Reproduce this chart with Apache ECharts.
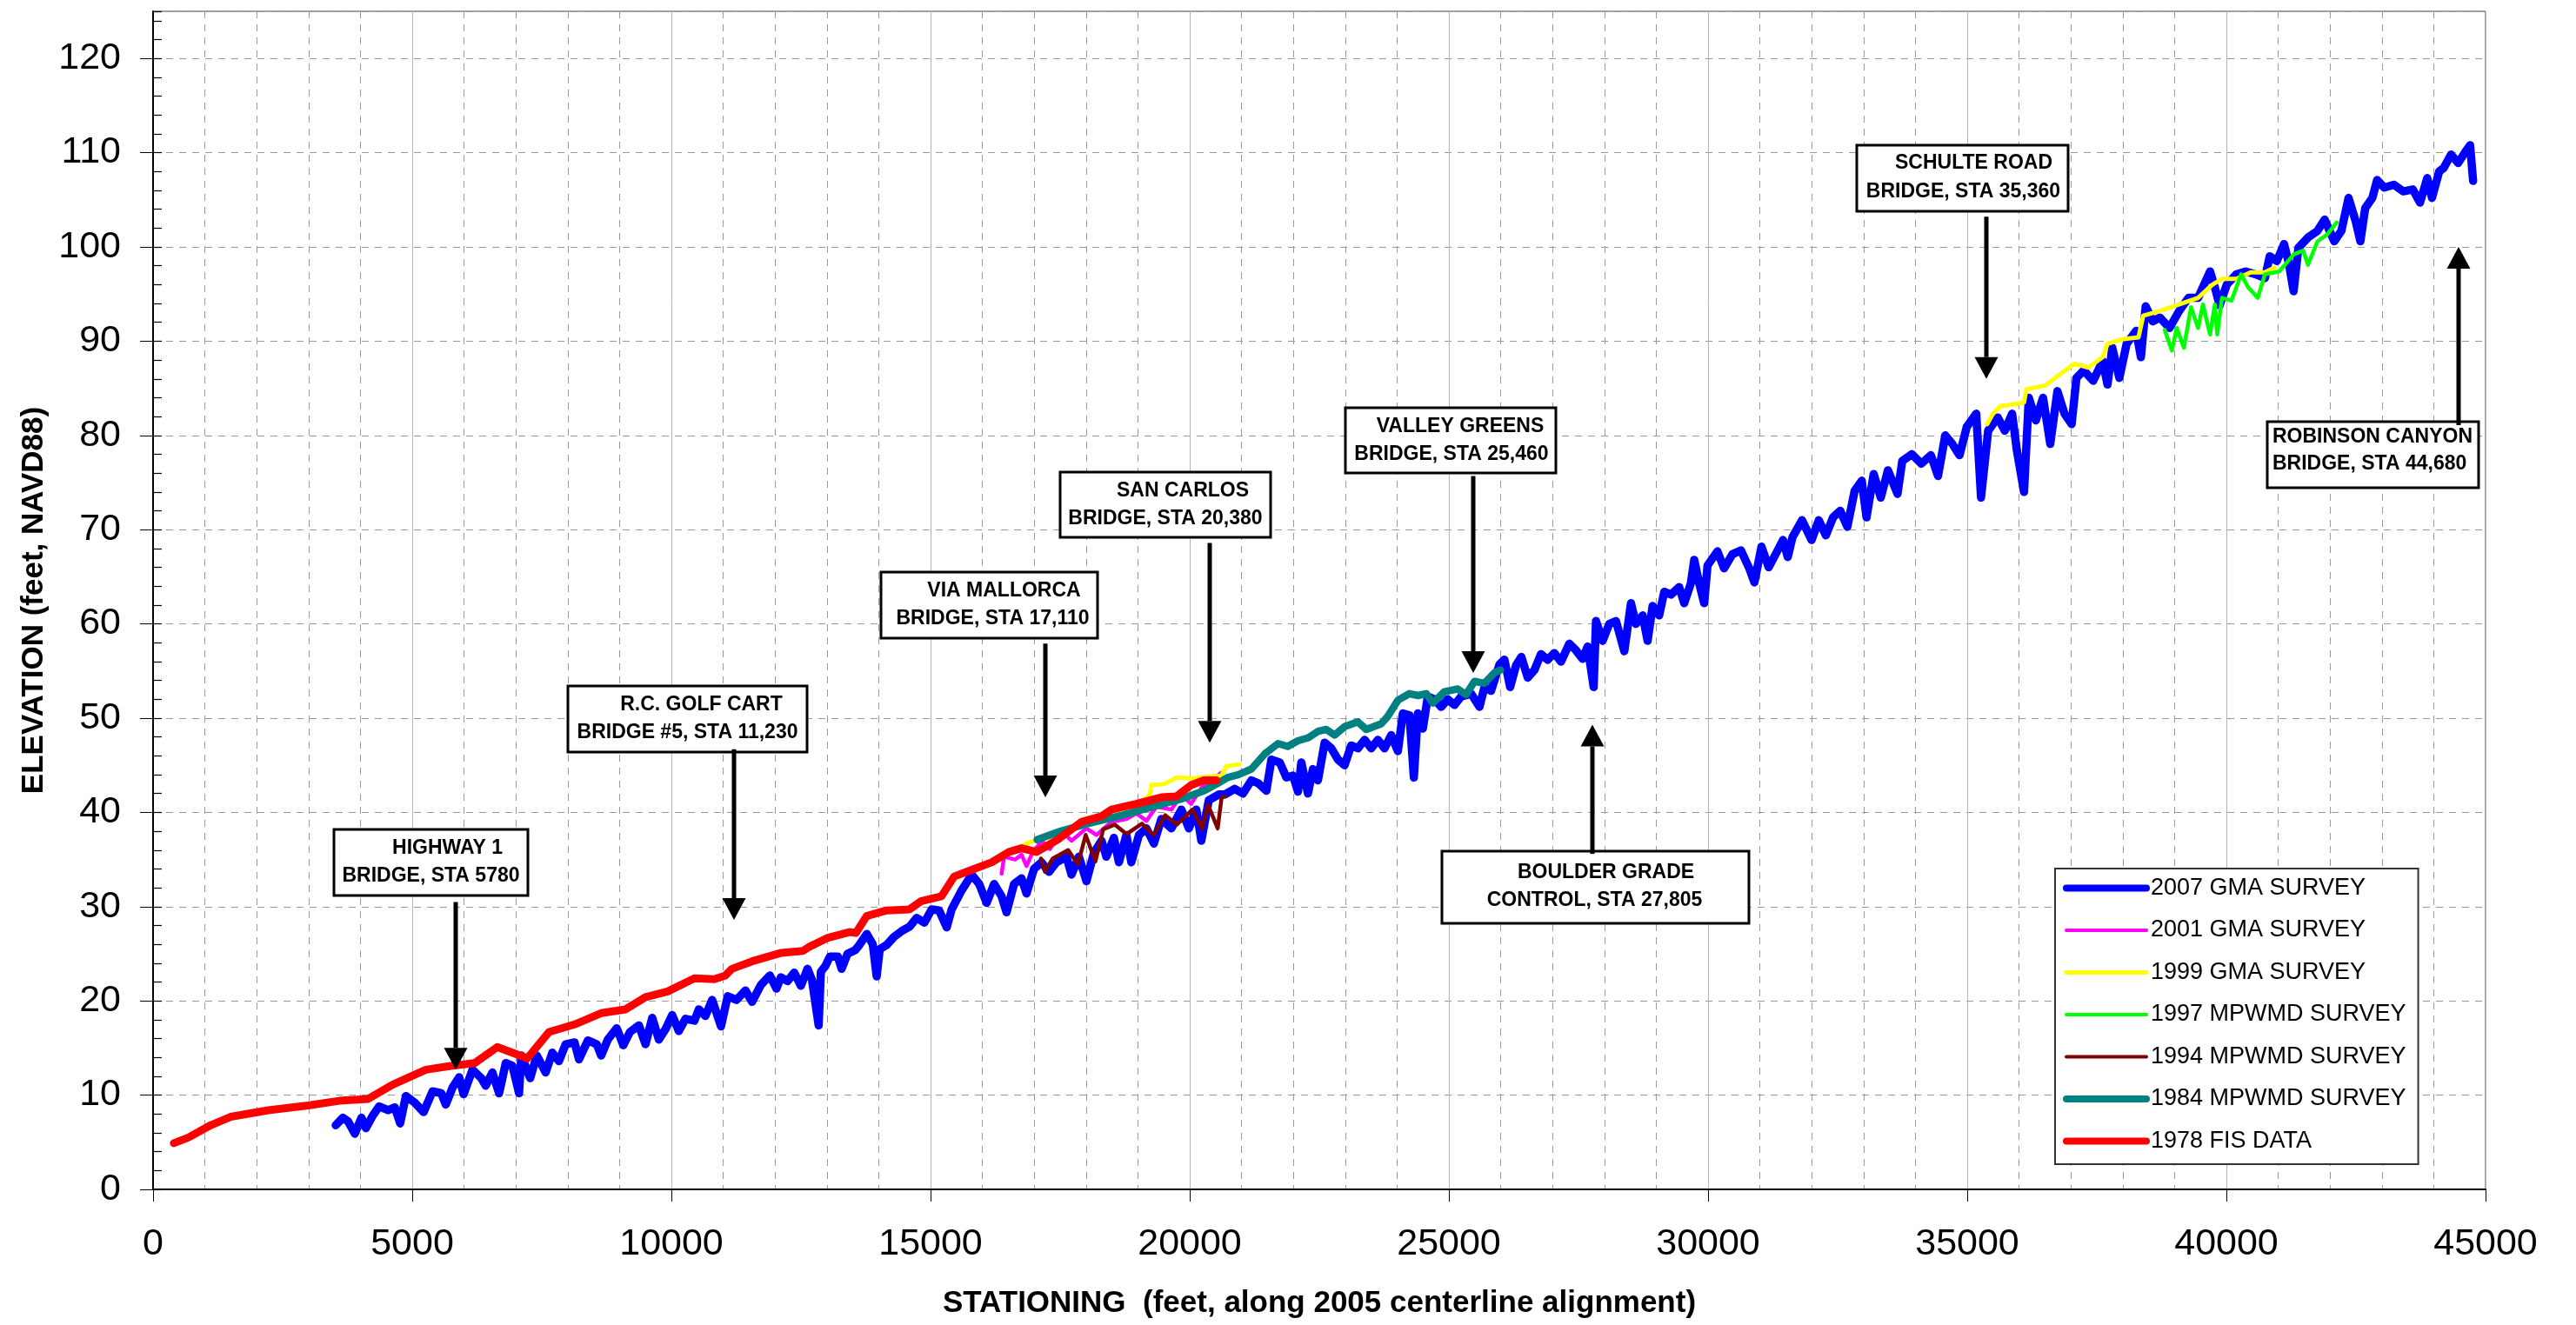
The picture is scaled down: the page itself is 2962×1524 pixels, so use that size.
<!DOCTYPE html>
<html>
<head>
<meta charset="utf-8">
<script src="https://cdn.jsdelivr.net/npm/echarts@6/dist/echarts.min.js"></script>
<style>
html,body{margin:0;padding:0;background:#fff;}
#chart{width:2962px;height:1524px;}
</style>
</head>
<body>
<div id="chart"></div>
<script>
// ---------------- DATA (station ft, elevation ft NAVD88) ----------------
const survey2007 = [[3524,6.8],[3662,7.6],[3764,7.2],[3893,5.9],[4021,7.6],[4107,6.5],[4235,7.8],[4363,8.8],[4535,8.4],[4664,8.7],[4767,7.0],[4877,9.9],[5048,9.2],[5220,8.2],[5391,10.4],[5561,10.2],[5647,9.0],[5777,10.8],[5906,11.9],[5991,10.1],[6163,12.7],[6333,11.8],[6416,11.0],[6547,12.4],[6676,10.2],[6804,13.4],[6933,13.1],[7061,10.2],[7104,14.2],[7275,11.8],[7403,14.2],[7574,12.4],[7703,14.5],[7831,13.6],[7960,15.4],[8131,15.6],[8217,13.8],[8388,15.8],[8559,15.4],[8645,14.2],[8774,15.9],[8945,17.1],[9073,15.3],[9202,16.7],[9373,17.4],[9501,15.4],[9630,18.2],[9758,15.9],[9887,17.0],[10015,18.5],[10143,16.8],[10273,18.1],[10444,17.9],[10529,19.1],[10657,18.4],[10786,20.1],[10957,17.3],[11086,20.5],[11257,20.1],[11428,21.1],[11557,19.9],[11728,21.7],[11899,22.7],[12027,21.3],[12112,22.5],[12240,22.1],[12370,23.0],[12498,21.6],[12626,23.4],[12713,22.2],[12841,17.4],[12884,23.1],[12970,23.7],[13059,24.7],[13210,24.7],[13284,23.4],[13398,25.0],[13548,25.4],[13622,25.9],[13771,27.1],[13885,26.0],[13960,22.6],[14020,25.5],[14147,25.9],[14296,26.8],[14443,27.4],[14600,27.9],[14732,28.8],[14880,28.3],[15021,29.7],[15165,29.6],[15311,27.8],[15407,29.7],[15597,31.7],[15793,33.4],[15938,32.4],[16082,30.4],[16226,32.4],[16370,31.1],[16466,29.4],[16611,32.4],[16755,33.0],[16852,31.4],[16996,34.0],[17141,34.7],[17285,33.7],[17429,34.7],[17622,35.3],[17719,33.4],[17862,35.3],[18008,32.7],[18152,35.7],[18298,37.0],[18392,35.3],[18537,37.3],[18634,34.7],[18778,37.6],[18874,34.7],[19020,37.6],[19165,38.3],[19309,36.7],[19453,39.3],[19646,38.3],[19839,40.3],[19984,38.3],[20128,40.3],[20224,37.0],[20368,41.3],[20561,41.9],[20676,41.9],[20866,42.5],[21028,42.0],[21190,43.4],[21319,43.1],[21479,42.3],[21575,45.6],[21736,45.3],[21865,43.7],[21993,43.9],[22089,42.2],[22153,45.3],[22281,42.0],[22377,44.6],[22474,43.4],[22603,47.4],[22731,46.8],[22860,45.6],[22987,45.0],[23115,47.1],[23245,46.8],[23374,47.7],[23501,46.8],[23630,47.7],[23759,46.8],[23887,48.2],[24016,46.5],[24112,50.5],[24240,50.3],[24324,43.7],[24401,50.5],[24498,48.9],[24594,52.3],[24723,52.0],[24851,51.2],[24979,52.0],[25108,51.4],[25237,52.3],[25428,52.6],[25590,51.2],[25687,53.3],[25814,52.9],[25976,55.7],[26071,56.2],[26182,53.3],[26296,55.6],[26398,56.5],[26521,54.3],[26650,55.1],[26777,56.8],[26906,56.2],[27034,56.9],[27163,56.0],[27323,57.9],[27452,57.2],[27580,56.3],[27677,57.6],[27793,53.3],[27838,60.3],[27966,58.2],[28095,60.0],[28223,60.3],[28384,57.1],[28513,62.2],[28609,60.0],[28738,60.9],[28834,58.2],[28930,61.9],[29057,60.9],[29155,63.4],[29284,63.1],[29443,63.9],[29540,62.2],[29668,64.3],[29733,66.8],[29829,64.3],[29925,62.2],[29990,66.2],[30181,67.7],[30310,65.9],[30471,67.4],[30634,67.8],[30795,65.9],[30894,64.4],[31031,68.2],[31169,66.0],[31305,67.4],[31446,68.9],[31538,67.1],[31629,69.2],[31813,71.0],[31998,68.9],[32136,71.0],[32273,69.4],[32412,71.3],[32550,72.0],[32687,70.3],[32827,74.1],[32965,75.2],[33057,71.3],[33195,75.9],[33332,73.4],[33470,76.3],[33655,73.8],[33747,77.3],[33932,78.0],[34115,77.0],[34299,77.9],[34437,75.7],[34576,80.0],[34712,79.1],[34852,77.9],[34991,80.9],[35174,82.3],[35266,73.4],[35404,80.5],[35589,81.9],[35726,80.5],[35866,82.3],[35958,78.4],[36096,74.0],[36188,84.0],[36324,81.6],[36463,84.0],[36602,79.1],[36740,84.7],[36877,82.3],[37015,81.2],[37107,86.1],[37247,86.9],[37431,85.8],[37614,87.9],[37706,85.4],[37799,89.3],[37935,86.1],[38074,89.7],[38259,91.1],[38351,88.3],[38443,93.7],[38581,92.1],[38718,92.5],[38903,91.4],[39087,93.2],[39270,94.6],[39455,94.6],[39685,97.4],[39778,95.7],[39870,93.8],[40007,96.0],[40192,97.1],[40374,97.4],[40559,97.1],[40744,96.7],[40836,99.0],[40974,98.5],[41112,100.3],[41204,98.3],[41297,95.3],[41389,99.9],[41574,101.0],[41757,101.7],[41896,102.9],[42081,100.6],[42219,101.7],[42357,105.2],[42495,102.7],[42585,100.6],[42678,104.1],[42816,105.2],[42908,107.1],[43045,106.3],[43230,106.6],[43413,105.9],[43598,106.1],[43735,104.7],[43875,107.3],[43967,105.2],[44105,108.0],[44195,108.4],[44334,109.8],[44472,108.9],[44612,110.1],[44702,110.8],[44760,107.0]];

const survey2001 = [[16370,33.5],[16420,35.3],[16630,35.0],[16755,35.5],[16852,34.3],[16948,35.5],[17141,37.0],[17300,36.1],[17527,38.0],[17719,37.0],[18008,38.3],[18200,37.6],[18489,39.0],[18778,39.3],[18970,39.9],[19165,39.1],[19356,40.6],[19646,40.3],[19839,41.9],[20027,40.9],[20224,42.6],[20465,43.6],[20609,44.2]];

const survey1999 = [[16700,36.2],[16850,36.7],[17000,37.0],[17200,37.3],[17600,38.1],[18000,38.9],[18500,40.0],[18900,40.8],[19150,41.5],[19230,41.9],[19260,42.9],[19500,43.0],[19750,43.7],[20050,43.6],[20350,43.8],[20610,43.9],[20705,44.9],[20950,45.1],
  [28000,null],
  [35386,81.2],[35497,82.3],[35636,83.1],[35911,83.3],[36096,83.5],[36140,84.9],[36509,85.3],[36694,86.1],[37063,87.6],[37337,87.2],[37614,88.3],[37706,89.7],[37982,90.2],[38304,90.4],[38396,92.7],[38718,93.2],[39087,93.9],[39455,94.6],[39731,96.0],[39915,96.6],[40192,96.6],[40468,97.3],[40744,97.3],[40928,97.8]];

const survey1997 = [[38810,91.2],[38948,89.0],[39042,91.4],[39180,89.3],[39318,93.6],[39455,91.4],[39547,93.9],[39685,90.7],[39778,93.9],[39823,90.7],[39915,94.6],[40100,94.3],[40284,97.1],[40422,95.7],[40606,94.6],[40744,97.1],[41021,97.4],[41297,99.2],[41482,99.6],[41574,98.1],[41758,100.6],[41943,101.3],[42127,102.6]];

const survey1994 = [[17130,35.1],[17206,33.7],[17355,35.1],[17655,36.0],[17842,34.5],[17993,37.6],[18181,34.8],[18330,38.2],[18555,38.7],[18780,37.7],[19079,38.8],[19303,37.6],[19528,39.7],[19753,38.7],[20052,40.3],[20240,38.3],[20353,40.8],[20540,38.3],[20615,41.6],[20680,41.7]];

const survey1984 = [[17056,37.1],[17505,38.0],[18030,38.8],[18629,39.6],[19228,40.5],[19826,41.4],[20277,42.3],[20547,43.1],[20727,43.7],[20933,44.0],[21190,44.6],[21447,46.2],[21704,47.3],[21891,47.0],[22088,47.6],[22281,47.9],[22474,48.6],[22635,48.8],[22796,48.2],[22988,49.1],[23245,49.6],[23406,48.8],[23694,49.4],[23823,50.2],[24016,51.9],[24240,52.6],[24401,52.4],[24562,52.6],[24690,51.6],[24914,52.8],[25171,53.1],[25331,52.5],[25493,53.9],[25684,53.7],[25877,54.8],[25993,55.1]];

const fis1978 = [[400,4.9],[681,5.5],[1109,6.8],[1495,7.7],[2224,8.4],[2992,8.9],[3593,9.4],[4150,9.6],[4620,11.1],[5263,12.7],[5740,13.1],[6205,13.4],[6640,15.1],[7220,13.9],[7640,16.7],[8131,17.5],[8645,18.7],[9116,19.1],[9501,20.4],[9928,21.0],[10444,22.4],[10828,22.3],[11043,22.7],[11166,23.4],[11557,24.2],[12122,25.1],[12535,25.3],[12648,25.7],[13022,26.7],[13435,27.3],[13560,27.2],[13767,29.0],[14150,29.6],[14590,29.7],[14825,30.6],[15211,31.1],[15455,33.2],[15793,33.9],[16177,34.7],[16514,35.8],[16755,36.2],[17045,35.8],[17476,37.2],[17912,39.0],[18298,39.6],[18489,40.3],[18969,40.9],[19453,41.6],[19742,41.7],[20027,42.9],[20272,43.4],[20513,43.4]];

const seriesNames = ['2007 GMA SURVEY','2001 GMA SURVEY','1999 GMA SURVEY','1997 MPWMD SURVEY','1994 MPWMD SURVEY','1984 MPWMD SURVEY','1978 FIS DATA'];

// Annotation texts and arrow positions (station, tail elevation, tip elevation)
const annotationTitles = ['HIGHWAY 1','R.C. GOLF CART','VIA MALLORCA','SAN CARLOS','VALLEY GREENS','BOULDER GRADE','SCHULTE ROAD','ROBINSON CANYON'];
const annotationSubtitles = ['BRIDGE, STA 5780','BRIDGE #5, STA 11,230','BRIDGE, STA 17,110','BRIDGE, STA 20,380','BRIDGE, STA 25,460','CONTROL, STA 27,805','BRIDGE, STA 35,360','BRIDGE, STA 44,680'];
const arrowStations = [5840, 11215, 17219, 20388, 25474, 27776, 35367, 44475];
const arrowTails = [30.5, 46.7, 57.9, 68.6, 75.7, 35.6, 103.2, 81.1];
const arrowTips = [12.7, 28.6, 41.6, 47.4, 54.8, 49.3, 86.0, 100.0];

// ---------------- LAYOUT / STYLE ----------------
const FONT = '"Liberation Sans", Arial, Helvetica, sans-serif';
const colors = ['#0000FF','#FF00FF','#FFFF00','#00FF00','#800000','#008080','#FF0000'];
const widths = [9.5, 4.5, 5, 4.5, 4.5, 8.5, 9];
const legendWidths = [8, 4, 5, 4, 4, 8, 8];
const seriesData = [survey2007, survey2001, survey1999, survey1997, survey1994, survey1984, fis1978];
// box anchor (top-left in data coords) + pixel size and text offsets
const boxLayout = [
  {x:3496,  y:38.2,  w:223, h:76, l1:22, l2:54, dx1:19, dx2:0},
  {x:8008,  y:53.4,  w:275, h:76, l1:22, l2:54, dx1:16, dx2:0},
  {x:14036, y:65.5,  w:249, h:76, l1:22, l2:54, dx1:17, dx2:4},
  {x:17494, y:76.1,  w:242, h:75, l1:22, l2:54, dx1:20, dx2:0},
  {x:22998, y:82.9,  w:242, h:75, l1:22, l2:54, dx1:11, dx2:1},
  {x:24861, y:35.9,  w:353, h:83, l1:25, l2:57, dx1:12, dx2:-1},
  {x:32867, y:110.8, w:243, h:76, l1:21, l2:54, dx1:13, dx2:1},
  {x:40788, y:81.5,  w:243, h:76, l1:18, l2:49, left:6}
];

const chart = echarts.init(document.getElementById('chart'), null, {renderer:'canvas'});

const series = seriesNames.map((name, i) => ({
  name: name,
  type: 'line',
  data: seriesData[i],
  xAxisIndex: 0,
  yAxisIndex: 0,
  symbol: 'none',
  showSymbol: false,
  connectNulls: false,
  silent: true,
  animation: false,
  z: 2 + i,
  lineStyle: {color: colors[i], width: widths[i], cap: 'round', join: 'round'},
  itemStyle: {color: colors[i]}
}));

const option = {
  backgroundColor: '#fff',
  animation: false,
  textStyle: {fontFamily: FONT},
  grid: {left: 176, right: 104, top: 13, bottom: 156, show: true, borderColor: '#444', borderWidth: 1},
  legend: {
    left: 2363, top: 999, orient: 'vertical',
    backgroundColor: '#fff', borderColor: '#333', borderWidth: 2,
    padding: [9, 14, 13, 9], itemGap: 21.5, itemWidth: 92, itemHeight: 14,
    selectedMode: false,
    itemStyle: {opacity: 0},
    textStyle: {fontSize: 27, fontFamily: FONT, color: '#000'},
    data: seriesNames.map((n, i) => ({name: n, lineStyle: {width: legendWidths[i], color: colors[i], cap: 'round'}, itemStyle: {opacity: 0}}))
  },
  xAxis: {
    type: 'value', min: 0, max: 45000, interval: 5000,
    name: 'STATIONING  (feet, along 2005 centerline alignment)',
    nameLocation: 'middle', nameGap: 114,
    nameTextStyle: {fontSize: 35, fontWeight: 'bold', color: '#000', fontFamily: FONT},
    axisLine: {show: true, onZero: false, lineStyle: {color: '#000', width: 2}},
    axisTick: {show: true, inside: false, length: 14, lineStyle: {color: '#000', width: 1}},
    axisLabel: {fontSize: 43, color: '#000', margin: 42, fontFamily: FONT, showMinLabel: true, showMaxLabel: true,
      formatter: v => String(v)},
    splitLine: {show: true, lineStyle: {color: '#b4b4b4', width: 1, type: 'solid'}},
    minorTick: {show: false, splitNumber: 5},
    minorSplitLine: {show: true, lineStyle: {color: '#9a9a9a', width: 1, type: [8, 7]}}
  },
  yAxis: [{
    type: 'value', min: 0, max: 125, interval: 10, position: 'left',
    name: 'ELEVATION (feet, NAVD88)',
    nameLocation: 'middle', nameGap: 119, nameRotate: 90,
    nameTextStyle: {fontSize: 35, fontWeight: 'bold', color: '#000', fontFamily: FONT},
    axisLine: {show: true, onZero: false, lineStyle: {color: '#000', width: 2}},
    axisTick: {show: true, inside: false, length: 15, lineStyle: {color: '#000', width: 1}},
    axisLabel: {fontSize: 43, color: '#000', margin: 37, fontFamily: FONT, showMaxLabel: false},
    splitLine: {show: true, lineStyle: {color: '#9a9a9a', width: 1, type: [8, 7]}}
  }, {
    type: 'value', min: 0, max: 125, interval: 2, position: 'left', offset: 0,
    axisLine: {show: false},
    axisLabel: {show: false},
    splitLine: {show: false},
    axisTick: {show: true, inside: true, length: 10, lineStyle: {color: '#000', width: 1.2}}
  }],
  series: series
};

chart.setOption(option);

function buildAnnotations() {
  const els = [];
  const toPx = (x, y) => chart.convertToPixel({seriesIndex: 0}, [x, y]);
  const annFont = 'bold 23px ' + FONT;
  annotationTitles.forEach((title, i) => {
    const L = boxLayout[i];
    const p = toPx(L.x, L.y);
    const bx = Math.round(p[0]), by = Math.round(p[1]);
    els.push({type: 'rect', z: 100, silent: true,
      shape: {x: bx, y: by, width: L.w, height: L.h},
      style: {fill: '#fff', stroke: '#000', lineWidth: 3}});
    const isLeft = L.left !== undefined;
    const cx = isLeft ? bx + L.left : bx + L.w / 2;
    const al = isLeft ? 'left' : 'center';
    els.push({type: 'text', z: 101, silent: true,
      x: cx + (isLeft ? 0 : L.dx1), y: by + L.l1,
      style: {text: title, font: annFont, fill: '#000', textAlign: al, textVerticalAlign: 'middle', align: al, verticalAlign: 'middle'}});
    els.push({type: 'text', z: 101, silent: true,
      x: cx + (isLeft ? 0 : L.dx2), y: by + L.l2,
      style: {text: annotationSubtitles[i], font: annFont, fill: '#000', textAlign: al, textVerticalAlign: 'middle', align: al, verticalAlign: 'middle'}});
    // arrow
    const t = toPx(arrowStations[i], arrowTails[i]);
    const h = toPx(arrowStations[i], arrowTips[i]);
    const ax = Math.round(t[0]);
    const dir = h[1] > t[1] ? 1 : -1;
    const headLen = 25, headW = 27;
    els.push({type: 'line', z: 100, silent: true,
      shape: {x1: ax, y1: t[1], x2: ax, y2: h[1] - dir * headLen},
      style: {stroke: '#000', lineWidth: 5}});
    els.push({type: 'polygon', z: 100, silent: true,
      shape: {points: [[ax, h[1]], [ax - headW / 2, h[1] - dir * headLen], [ax + headW / 2, h[1] - dir * headLen]]},
      style: {fill: '#000'}});
  });
  chart.setOption({graphic: {elements: els}});
}
buildAnnotations();
</script>
</body>
</html>
